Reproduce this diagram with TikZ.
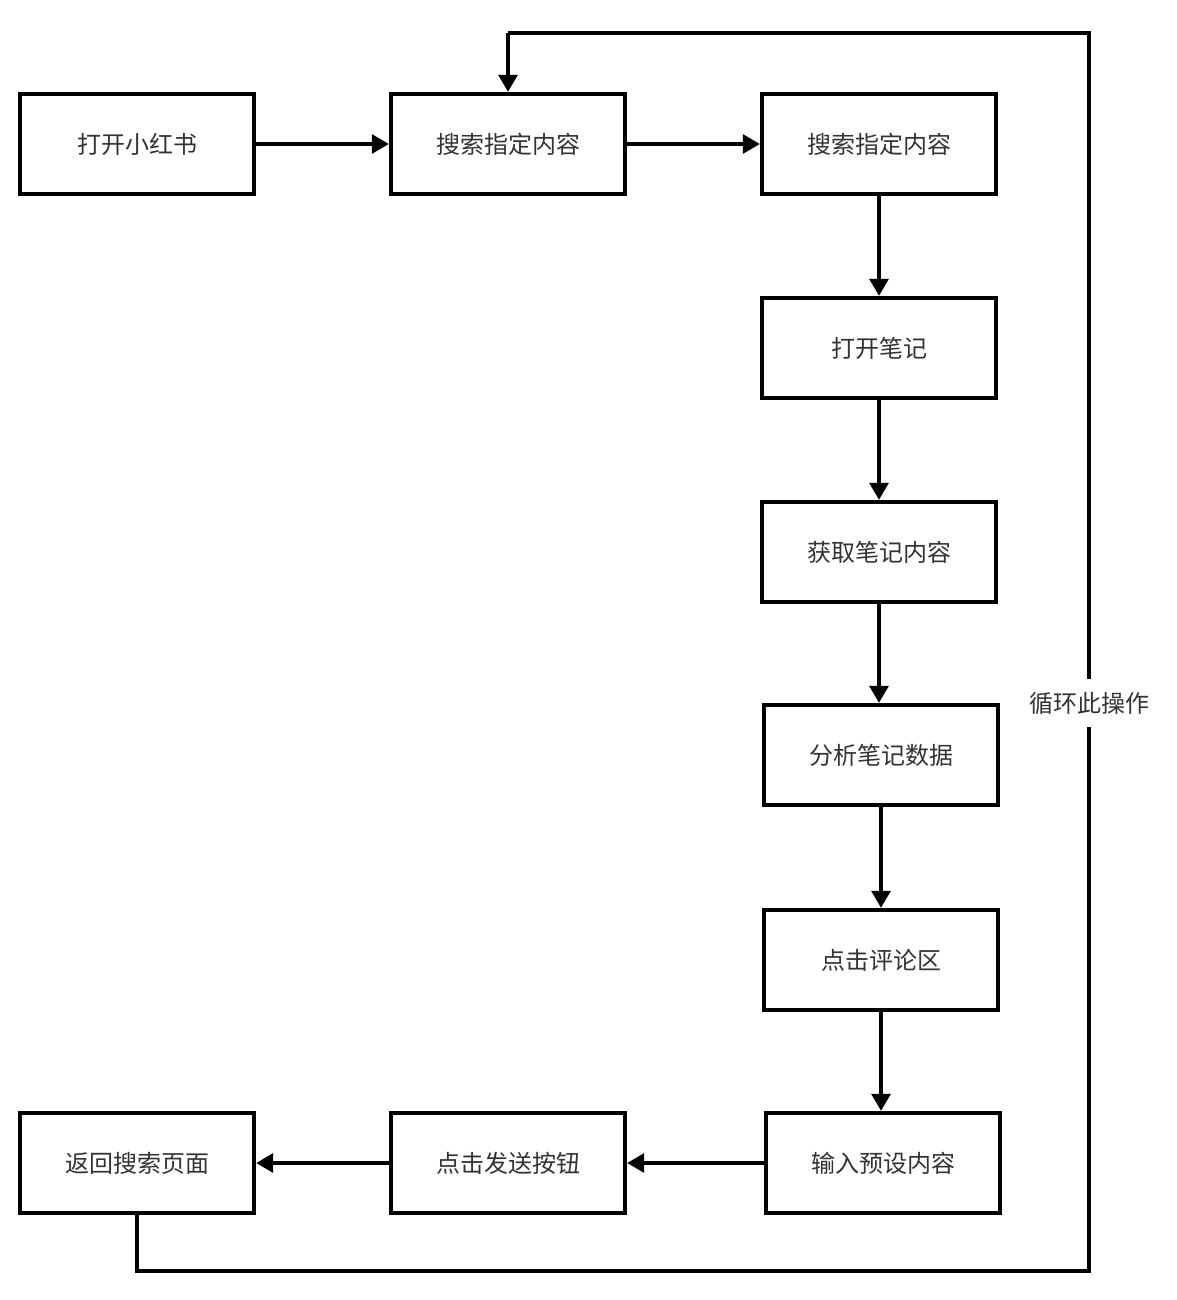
\documentclass[tikz,border=0pt]{standalone}
\usepackage{fontspec}
\newfontfamily\cjk{Noto Sans CJK SC}
\usetikzlibrary{arrows.meta}
\tikzset{
  stepbox/.style={draw, line width=4.4pt, fill=white, minimum width=234pt, minimum height=100pt, inner sep=0pt, align=center, text=black!80, font=\cjk\fontsize{24}{28}\selectfont},
  flowarrow/.style={-{Triangle[length=17pt, width=19pt]}, line width=3.2pt},
  loopline/.style={line width=3.2pt},
  looplabel/.style={fill=white, inner xsep=2pt, inner ysep=13pt, text=black!80, font=\cjk\fontsize{24}{28}\selectfont}
}

\begin{document}
\begin{tikzpicture}[x=1pt, y=-1pt]
  \useasboundingbox (0,0) rectangle (1176,1300);
  % top row
  \node[stepbox] (open) at (137,144) {打开小红书};
  \node[stepbox] (search) at (508,144) {搜索指定内容};
  \node[stepbox] (searchb) at (879,144) {搜索指定内容};
  % right column
  \node[stepbox] (note) at (879,348) {打开笔记};
  \node[stepbox] (fetch) at (879,552) {获取笔记内容};
  \node[stepbox] (analyse) at (881,755) {分析笔记数据};
  \node[stepbox] (comment) at (881,960) {点击评论区};
  \node[stepbox] (input) at (883,1163) {输入预设内容};
  % bottom row
  \node[stepbox] (send) at (508,1163) {点击发送按钮};
  \node[stepbox] (back) at (137,1163) {返回搜索页面};

  \draw[flowarrow] (open) -- (search);
  \draw[flowarrow] (search) -- (searchb);
  \draw[flowarrow] (searchb) -- (note);
  \draw[flowarrow] (note) -- (fetch);
  \draw[flowarrow] (fetch.south) -- (fetch.south |- analyse.north);
  \draw[flowarrow] (analyse) -- (comment);
  \draw[flowarrow] (comment.south) -- (comment.south |- input.north);
  \draw[flowarrow] (input) -- (send);
  \draw[flowarrow] (send) -- (back);

  % loop back to the search box
  \coordinate (c1) at (137,1271);
  \coordinate (c2) at (1089,1271);
  \coordinate (c3) at (1089,33);
  \coordinate (c4) at (508,33);
  \draw[loopline, line join=miter] (back.south) -- (c1) -- (c2) -- (c3) -- (c4);
  \draw[flowarrow] (c4) -- (search.north);
  \node[looplabel] (looptext) at (1089,703) {循环此操作};
\end{tikzpicture}
\end{document}
